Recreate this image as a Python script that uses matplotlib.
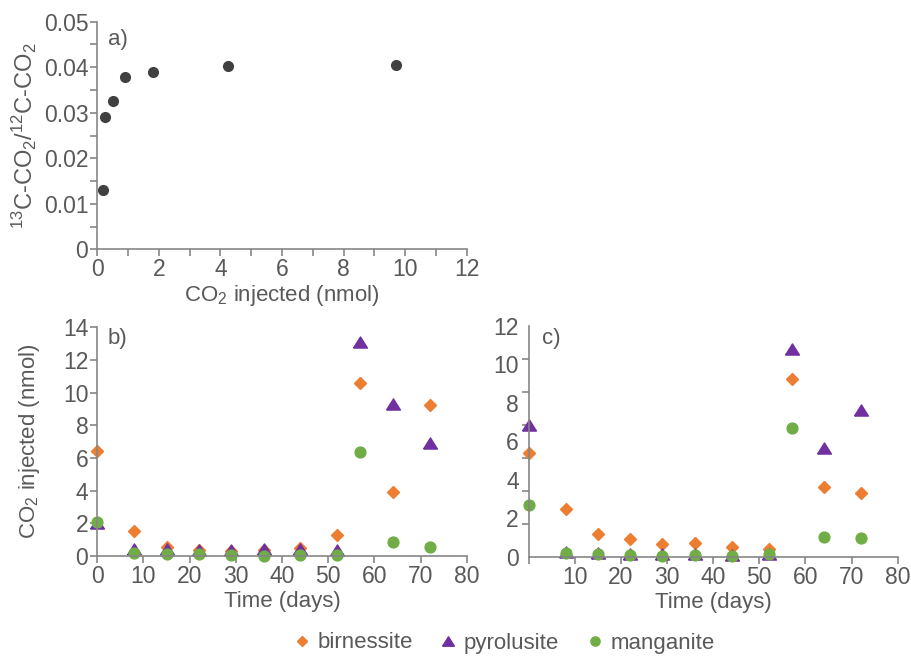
import numpy as np
import matplotlib
matplotlib.use("Agg")
import matplotlib.pyplot as plt
from matplotlib.lines import Line2D

plt.rcParams['font.family'] = ['Liberation Sans', 'DejaVu Sans']
plt.rcParams['mathtext.fontset'] = 'custom'
plt.rcParams['mathtext.rm'] = 'Liberation Sans'
plt.rcParams['mathtext.it'] = 'Liberation Sans'
plt.rcParams['mathtext.default'] = 'regular'

# ---- panel a: isotope ratio vs. CO2 injected ----
a_co2 = [0.18, 0.26, 0.50, 0.90, 1.82, 4.23, 9.69]
a_ratio = [0.0131, 0.0291, 0.0326, 0.0378, 0.0390, 0.0403, 0.0405]

# ---- panels b and c: CO2 injected over time ----
days = [0, 8, 15, 22, 29, 36, 44, 52, 57, 64, 72]
b_birnessite = [6.45, 1.50, 0.53, 0.37, 0.30, 0.35, 0.50, 1.31, 10.6, 3.90, 9.24]
b_pyrolusite = [2.0, 0.45, 0.45, 0.37, 0.37, 0.43, 0.40, 0.37, 13.1, 9.3, 6.9]
b_manganite = [2.08, 0.20, 0.10, 0.10, 0.04, 0.03, 0.05, 0.04, 6.37, 0.84, 0.57]

c_birnessite = [5.38, 2.48, 1.16, 0.92, 0.64, 0.71, 0.49, 0.42, 9.26, 3.62, 3.31]
c_pyrolusite = [6.85, 0.26, 0.20, 0.12, 0.12, 0.12, 0.09, 0.12, 10.79, 5.67, 7.65]
c_manganite = [2.67, 0.17, 0.16, 0.09, 0.05, 0.09, 0.05, 0.12, 6.68, 1.04, 0.99]

a_yticks = [0, 0.01, 0.02, 0.03, 0.04, 0.05]
a_ylabels = ['0', '0.01', '0.02', '0.03', '0.04', '0.05']
a_xticks = [0, 2, 4, 6, 8, 10, 12]
b_yticks = [0, 2, 4, 6, 8, 10, 12, 14]
c_yticks = [0, 2, 4, 6, 8, 10, 12]
time_ticks = [0, 10, 20, 30, 40, 50, 60, 70, 80]

series_names = ['birnessite', 'pyrolusite', 'manganite']

ORANGE = '#ED7D31'
PURPLE = '#7030A0'
GREEN = '#70AD47'
DARK = '#404040'
AXIS = '#868686'
TEXT = '#595959'

TICK_FS = 16.5
LABEL_FS = 16

tri = [(-1, -0.8), (1, -0.8), (0, 0.8), (-1, -0.8)]
styles = [
    dict(marker='D', ms=6.2, color=ORANGE),
    dict(marker=tri, ms=10.0, color=PURPLE),
    dict(marker='o', ms=7.8, color=GREEN),
]

W, H = 911, 656
fig = plt.figure(figsize=(W / 100, H / 100), dpi=100)


def box(l, t, r, b):
    return [l / W, 1 - b / H, (r - l) / W, (b - t) / H]


def style_axes(ax):
    for s in ['top', 'right']:
        ax.spines[s].set_visible(False)
    for s in ['left', 'bottom']:
        ax.spines[s].set_color(AXIS)
        ax.spines[s].set_linewidth(1.2)
    ax.tick_params(which='both', direction='out', color=AXIS, width=1.2,
                   length=5, labelcolor=TEXT, labelsize=TICK_FS, pad=1.5)


# panel a
ax_a = fig.add_axes(box(97.3, 21.7, 466.7, 249.3))
style_axes(ax_a)
ax_a.plot(a_co2, a_ratio, 'o', color=DARK, ms=7.0, clip_on=False)
ax_a.set_xlim(0, 12)
ax_a.set_ylim(0, 0.05)
ax_a.set_xticks(a_xticks)
ax_a.set_xticks(np.arange(1, 12, 2), minor=True)
ax_a.set_yticks(a_yticks)
ax_a.set_yticklabels(a_ylabels)
ax_a.set_yticks(np.arange(0.005, 0.05, 0.01), minor=True)
ax_a.set_xlabel('CO$_2$ injected (nmol)', fontsize=LABEL_FS, color=TEXT,
                labelpad=1)
ax_a.set_ylabel('$^{13}$C-CO$_2$/$^{12}$C-CO$_2$', fontsize=17, color=TEXT,
                labelpad=3)
ax_a.text(0.029, 0.92, 'a)', transform=ax_a.transAxes, fontsize=LABEL_FS,
          color=TEXT, ha='left', va='center')


def time_panel(rect, ys, ylim):
    ax = fig.add_axes(rect)
    style_axes(ax)
    for y, st in zip(ys, styles):
        ax.plot(days, y, linestyle='none', marker=st['marker'], ms=st['ms'],
                color=st['color'], mec=st['color'], clip_on=False)
    ax.set_xlim(0, 80)
    ax.set_ylim(0, ylim)
    ax.set_xticks(time_ticks)
    ax.set_xlabel('Time (days)', fontsize=LABEL_FS, color=TEXT, labelpad=2)
    return ax


# panel b
ax_b = time_panel(box(97.3, 327.3, 466.7, 556.0),
                  [b_birnessite, b_pyrolusite, b_manganite], 14)
ax_b.set_yticks(b_yticks)
ax_b.set_ylabel('CO$_2$ injected (nmol)', fontsize=LABEL_FS, color=TEXT,
                labelpad=15)
ax_b.text(0.029, 0.953, 'b)', transform=ax_b.transAxes, fontsize=LABEL_FS,
          color=TEXT, ha='left', va='center')

# panel c: tick marks every 1/7 of the axis, value labels every 2
ax_c = time_panel(box(528.7, 326.0, 897.7, 556.7),
                  [c_birnessite, c_pyrolusite, c_manganite], 12)
ax_c.set_yticks(c_yticks)
ax_c.tick_params(axis='y', which='major', length=0, pad=7)
ax_c.set_yticks(np.linspace(0, 12, 8), minor=True)
ax_c.tick_params(axis='y', which='minor', length=5)
ax_c.set_xticklabels([''] + [str(t) for t in time_ticks[1:]])
ax_c.text(0.035, 0.946, 'c)', transform=ax_c.transAxes, fontsize=LABEL_FS,
          color=TEXT, ha='left', va='center')

# shared legend along the bottom
handles = [Line2D([], [], linestyle='none', marker=st['marker'],
                  ms=st['ms'] * 0.85, color=st['color'])
           for st in styles]
fig.legend(handles, series_names, loc='center', ncol=3,
           bbox_to_anchor=(505 / W, 1 - 643 / H), frameon=False,
           fontsize=LABEL_FS, labelcolor=TEXT, handlelength=0.6,
           handletextpad=0.4, columnspacing=1.3)

fig.savefig('out.png', dpi=100)
